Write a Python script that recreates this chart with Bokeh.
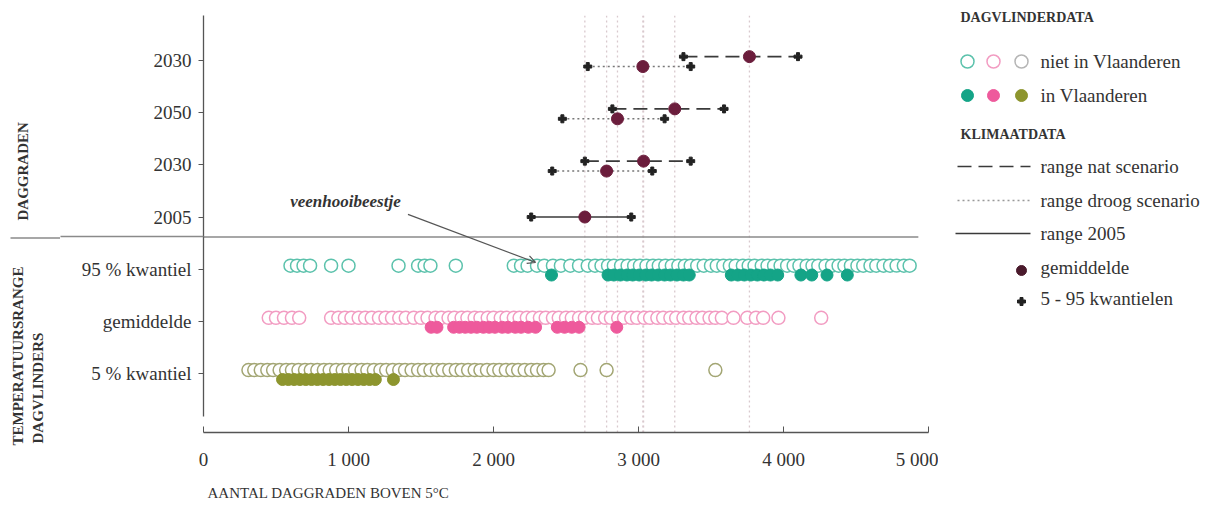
import math
from bokeh.plotting import figure
from bokeh.models import Range1d, FixedTicker, Span, Label, Arrow, OpenHead, Title
from bokeh.layouts import row
from bokeh.embed import file_html
from bokeh.resources import INLINE
from bokeh.core.properties import value

# ---------------- data ----------------
climate_labels = ["2030", "2050", "2030", "2005"]
butterfly_labels = ["95 % kwantiel", "gemiddelde", "5 % kwantiel"]
x_tick_values = [0, 1000, 2000, 3000, 4000, 5000]
x_tick_labels = ["0", "1 000", "2 000", "3 000", "4 000", "5 000"]

# climate scenarios, rows top to bottom: 2030 (top), 2050, 2030
wet_lo = [3310, 2820, 2630]
wet_hi = [4100, 3590, 3360]
wet_mean = [3765, 3250, 3035]
dry_lo = [2650, 2475, 2405]
dry_hi = [3360, 3180, 3095]
dry_mean = [3030, 2855, 2780]
# reference period 2005
base_lo = [2260]
base_hi = [2950]
base_mean = [2630]

# butterfly species: 95 % quantile
q95_out = [600, 645, 690, 735, 880, 1000, 1345, 1480, 1525, 1565, 1740, 2140, 2190,
           2235, 2300, 2350, 2410, 2465, 2530, 2590, 2650, 2700, 2745, 2790, 2830,
           2880, 2925, 2970, 3010, 3055, 3100, 3140, 3185, 3230, 3275, 3320, 3360,
           3405, 3450, 3500, 3540, 3585, 3630, 3670, 3720, 3760, 3800, 3850, 3890,
           3935, 3980, 4025, 4070, 4110, 4160, 4200, 4240, 4290, 4335, 4380, 4420,
           4465, 4510, 4550, 4600, 4640, 4690, 4735, 4780, 4830, 4870]
q95_in = [2400, 2790, 2830, 2875, 2920, 2960, 3005, 3050, 3090, 3135, 3180, 3220,
          3265, 3310, 3350, 3640, 3685, 3730, 3775, 3820, 3865, 3910, 3960, 4120,
          4195, 4300, 4440]
# butterfly species: mean
mean_out = [450, 500, 555, 610, 660, 880, 930, 975, 1020, 1070, 1115, 1160, 1210,
            1255, 1300, 1350, 1395, 1450, 1500, 1545, 1600, 1640, 1690, 1730, 1780,
            1820, 1870, 1910, 1960, 2000, 2050, 2090, 2140, 2180, 2230, 2270, 2320,
            2360, 2410, 2450, 2500, 2540, 2590, 2630, 2680, 2720, 2770, 2810, 2860,
            2900, 2950, 2990, 3040, 3080, 3130, 3170, 3220, 3260, 3310, 3350, 3400,
            3440, 3490, 3530, 3575, 3655, 3750, 3810, 3860, 3965, 4260]
mean_in = [1570, 1610, 1725, 1765, 1805, 1845, 1885, 1930, 1970, 2010, 2060, 2100,
           2150, 2190, 2240, 2290, 2440, 2490, 2540, 2590, 2850]
# butterfly species: 5 % quantile
q5_out = [310, 350, 395, 440, 480, 525, 570, 610, 655, 700, 740, 785, 830, 870, 915,
          960, 1000, 1045, 1090, 1130, 1175, 1220, 1260, 1305, 1350, 1390, 1435, 1480,
          1520, 1565, 1610, 1650, 1695, 1740, 1780, 1825, 1870, 1910, 1955, 2000,
          2040, 2085, 2130, 2170, 2215, 2260, 2300, 2345, 2380, 2600, 2780, 3530]
q5_in = [545, 585, 625, 665, 705, 745, 785, 825, 865, 905, 945, 985, 1025, 1065,
         1105, 1145, 1185, 1310]

veen_x = 2300          # veenhooibeestje, 95 % quantile

group_titles = ["DAGGRADEN", "TEMPERATUURSRANGE", "DAGVLINDERS"]
legend_headers = ["DAGVLINDERDATA", "KLIMAATDATA"]
legend_items_butterfly = ["niet in Vlaanderen", "in Vlaanderen"]
legend_items_climate = ["range nat scenario", "range droog scenario", "range 2005",
                        "gemiddelde", "5 - 95 kwantielen"]

# ---------------- style / layout ----------------
FONT = "Liberation Serif"
TXT = "#333333"
AX = "#555555"
SEP = "#8a8a8a"
TEAL, TEAL_L = "#14a487", "#5cc2ac"
PINK, PINK_L = "#ee5a9c", "#f29cc2"
OLIVE, OLIVE_L = "#8d952e", "#a3a674"
MEAN_C = "#6b1d3c"
WET_DASH = "14 7"
DRY_DASH = "2 3"

H = 510
LEFT_W, LEG_W = 60, 280
TOP, BOTTOM = 15, 76
MAIN_BORDER_L = 143
FRAME_W = 725
MAIN_W = MAIN_BORDER_L + FRAME_W + 10

scen_rows = [7, 6, 5]
base_rows = [4]
row_q95, row_mean, row_q5 = 3, 2, 1
y_ticks = [7, 6, 5, 4, 3, 2, 1]
ROW_PX = 52.5
y_lo = 1 - 59 / ROW_PX
y_hi = 7 + 45 / ROW_PX
SEP_Y = 3.62
WET_OFF, DRY_OFF = 0.07, -0.12
OUT_OFF, IN_OFF = 0.07, -0.11


def y_to_px(v):  # main y value -> pixel from top (for the side panels)
    return TOP + (y_hi - v) * ROW_PX


def no_align(fig):
    try:
        fig.frame_align = False
    except Exception:
        pass


# ---------------- main plot ----------------
p = figure(width=MAIN_W, height=H, x_range=Range1d(0, 5000), y_range=Range1d(y_lo, y_hi),
           output_backend="svg", toolbar_location=None,
           min_border_left=MAIN_BORDER_L, min_border_right=10,
           min_border_top=TOP, min_border_bottom=BOTTOM)
no_align(p)
p.outline_line_color = None
p.grid.visible = False

xa = p.xaxis[0]
xa.ticker = FixedTicker(ticks=x_tick_values)
xa.major_label_overrides = dict(zip(x_tick_values, x_tick_labels))
xa.bounds = (0, 5000)
xa.major_tick_in = 6
xa.major_tick_out = 0
xa.minor_tick_line_color = None
xa.axis_line_color = AX
xa.axis_line_width = 1.3
xa.major_tick_line_color = AX
xa.major_label_text_font = FONT
xa.major_label_text_font_size = "19px"
xa.major_label_text_color = TXT
xa.major_label_standoff = 16

ya = p.yaxis[0]
ya.ticker = FixedTicker(ticks=y_ticks, minor_ticks=[SEP_Y])
ya.major_label_overrides = dict(zip(y_ticks, climate_labels + butterfly_labels))
ya.bounds = (1 - 43 / ROW_PX, y_hi)
ya.major_tick_in = 0
ya.major_tick_out = 5
ya.minor_tick_in = 0
ya.minor_tick_out = MAIN_BORDER_L      # separator line through the label area
ya.minor_tick_line_color = SEP
ya.minor_tick_line_width = 1.5
ya.axis_line_color = AX
ya.axis_line_width = 1.3
ya.major_tick_line_color = AX
ya.major_label_text_font = FONT
ya.major_label_text_font_size = "19px"
ya.major_label_text_color = TXT
ya.major_label_standoff = 12 - MAIN_BORDER_L   # labels sit 12 px left of the axis

p.add_layout(Title(text="AANTAL DAGGRADEN BOVEN 5°C", align="left", offset=4,
                   text_font=FONT, text_font_size="15px", text_font_style="normal",
                   text_color=TXT, standoff=20), "below")

# vertical guides at the climate means
for m in wet_mean + dry_mean + base_mean:
    p.add_layout(Span(location=m, dimension="height", line_color="#d9c9ce",
                      line_dash="2 3", line_width=1.3, level="underlay"))

# separator between the two groups (inside the frame)
p.segment(x0=[0], y0=[SEP_Y], x1=[4930], y1=[SEP_Y], line_color=SEP, line_width=1.5)

# climate ranges
wy = [r + WET_OFF for r in scen_rows]
dy = [r + DRY_OFF for r in scen_rows]
p.segment(x0=wet_lo, y0=wy, x1=wet_hi, y1=wy, line_color="#3a3a3a", line_width=1.6,
          line_dash=WET_DASH)
p.segment(x0=dry_lo, y0=dy, x1=dry_hi, y1=dy, line_color="#777777", line_width=1.6,
          line_dash=DRY_DASH)
p.segment(x0=base_lo, y0=base_rows, x1=base_hi, y1=base_rows, line_color="#3a3a3a",
          line_width=1.6)
p.scatter(x=wet_lo + wet_hi + dry_lo + dry_hi + base_lo + base_hi,
          y=wy + wy + dy + dy + base_rows + base_rows,
          marker="plus", size=8, color="#222222")
p.scatter(x=wet_mean + dry_mean + base_mean, y=wy + dy + base_rows, size=12,
          color=MEAN_C)

# butterfly data
for xs, r, lc in [(q95_out, row_q95, TEAL_L), (mean_out, row_mean, PINK_L),
                  (q5_out, row_q5, OLIVE_L)]:
    p.scatter(x=xs, y=[r + OUT_OFF] * len(xs), size=13, fill_color="white",
              line_color=lc, line_width=1.5)
for xs, r, c in [(q95_in, row_q95, TEAL), (mean_in, row_mean, PINK), (q5_in, row_q5, OLIVE)]:
    p.scatter(x=xs, y=[r + IN_OFF] * len(xs), size=12, color=c)

# annotation veenhooibeestje
p.add_layout(Arrow(end=OpenHead(size=8, line_color="#555555", line_width=1.2),
                   x_start=veen_x - 890, y_start=4.05, x_end=veen_x - 10,
                   y_end=row_q95 + OUT_OFF + 0.06, line_color="#555555", line_width=1.2))
p.add_layout(Label(x=veen_x - 940, y=4.3, text="veenhooibeestje", text_align="right",
                   text_baseline="middle", text_font=FONT, text_font_size="17px",
                   text_font_style="bold italic", text_color=TXT))

# ---------------- left panel: group titles ----------------
lf = figure(width=LEFT_W, height=H, x_range=Range1d(0, LEFT_W), y_range=Range1d(0, H),
            output_backend="svg", toolbar_location=None, min_border=0,
            x_axis_location=None, y_axis_location=None)
no_align(lf)
lf.outline_line_color = None
lf.grid.visible = False
sep_px = H - y_to_px(SEP_Y)
lf.segment(x0=[10], y0=[sep_px], x1=[LEFT_W], y1=[sep_px], line_color=SEP, line_width=1.5)
lf.text(x=[22, 17, 37], y=[H - 220, H - 445, H - 443], text=group_titles,
        angle=math.pi / 2, text_align="left", text_baseline="middle",
        text_font=value(FONT), text_font_size=value("15px"), text_font_style="bold",
        text_color=TXT)

# ---------------- legend panel ----------------
lg = figure(width=LEG_W, height=H, x_range=Range1d(0, LEG_W), y_range=Range1d(H, 0),
            output_backend="svg", toolbar_location=None, min_border=0,
            x_axis_location=None, y_axis_location=None)
no_align(lg)
lg.outline_line_color = None
lg.grid.visible = False

hdr = dict(text_font=value(FONT), text_font_size=value("14px"), text_font_style="bold",
           text_color=TXT, text_baseline="middle", text_align="left")
itm = dict(text_font=value(FONT), text_font_size=value("19px"), text_color=TXT,
           text_baseline="middle", text_align="left")
lg.text(x=[22, 22], y=[17, 134], text=legend_headers, **hdr)
lg.scatter(x=[29, 55, 83], y=[61] * 3, size=13, fill_color="white",
           line_color=[TEAL_L, PINK_L, "#b5b5b5"], line_width=1.5)
lg.scatter(x=[29, 55, 83], y=[95] * 3, size=12, color=[TEAL, PINK, OLIVE])
lg.text(x=[102] * 2, y=[61, 95], text=legend_items_butterfly, **itm)
lg.segment(x0=[19], y0=[166], x1=[92], y1=[166], line_color="#3a3a3a", line_width=1.6,
           line_dash=WET_DASH)
lg.segment(x0=[19], y0=[200], x1=[92], y1=[200], line_color="#999999", line_width=1.6,
           line_dash=DRY_DASH)
lg.segment(x0=[17], y0=[233], x1=[92], y1=[233], line_color="#3a3a3a", line_width=1.6)
lg.scatter(x=[83], y=[270], size=10, color="#4a1a2c")
lg.scatter(x=[83], y=[301], marker="plus", size=8, color="#222222")
lg.text(x=[102] * 5, y=[166, 200, 233, 267, 298], text=legend_items_climate, **itm)

layout = row(lf, p, lg)
open("out.html", "w").write(file_html(layout, INLINE))
